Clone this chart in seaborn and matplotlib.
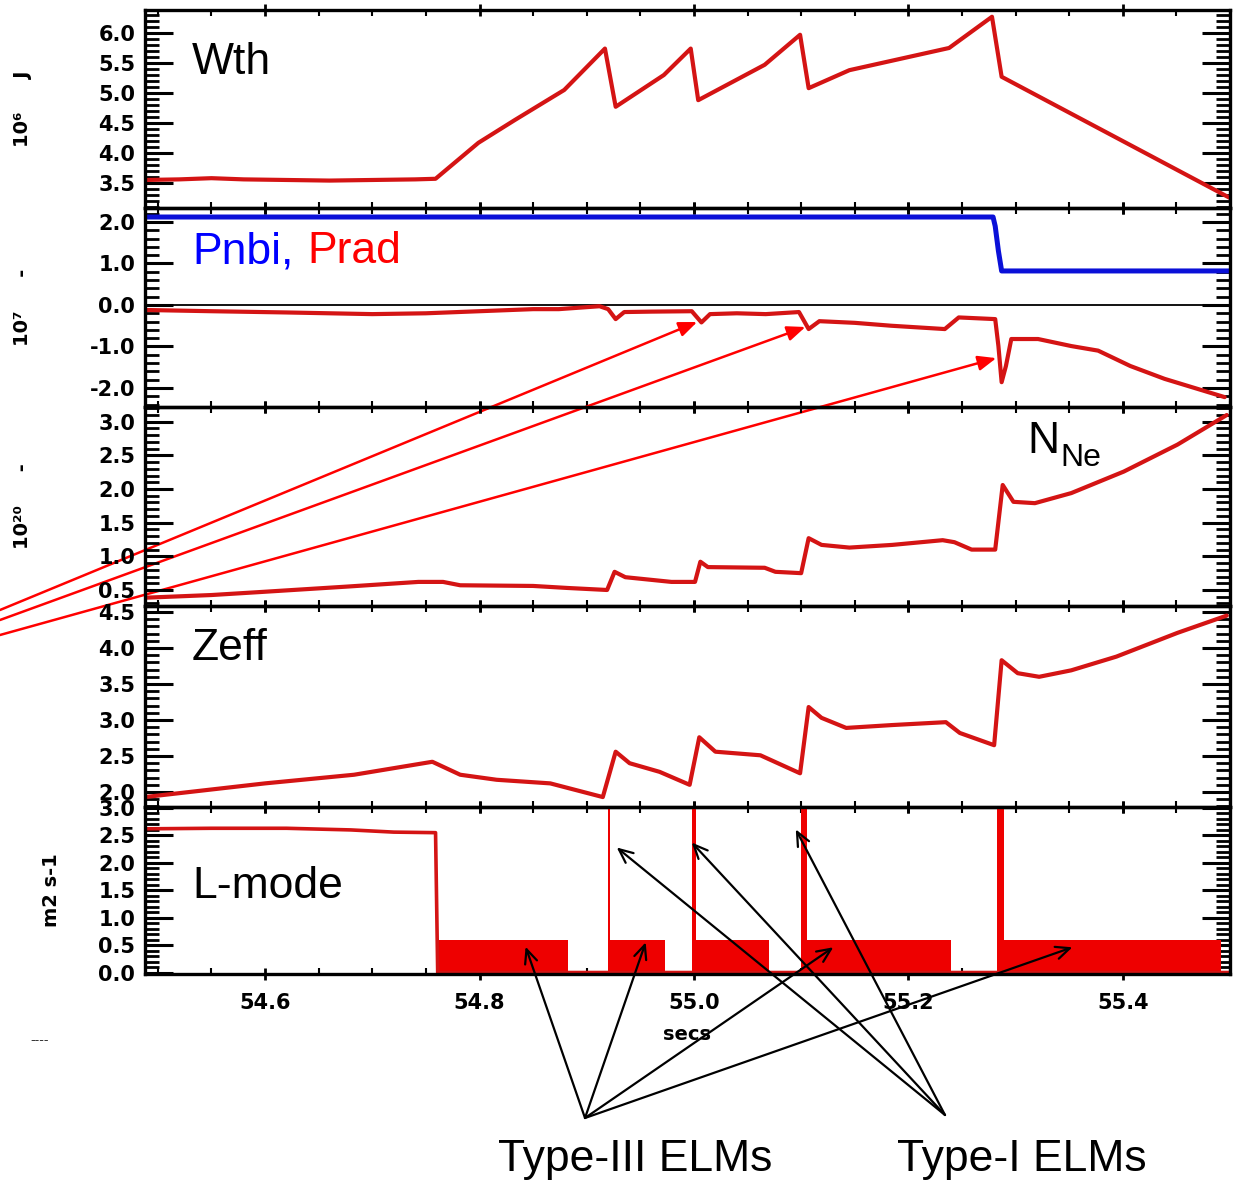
import numpy as np
import pandas as pd
import matplotlib
matplotlib.use("Agg")
import matplotlib.pyplot as plt
from matplotlib.ticker import MultipleLocator
import seaborn as sns

# ---------------- data ----------------
wth_t = [54.488, 54.52, 54.55, 54.58, 54.62, 54.66, 54.70, 54.74, 54.759, 54.799, 54.833, 54.856,
         54.879, 54.917, 54.927, 54.972, 54.997, 55.004, 55.066, 55.099, 55.107, 55.145, 55.238,
         55.278, 55.287, 55.500]
wth_v = [3.55, 3.56, 3.58, 3.56, 3.55, 3.54, 3.55, 3.56, 3.57, 4.17, 4.55, 4.80,
         5.05, 5.74, 4.77, 5.30, 5.74, 4.88, 5.47, 5.97, 5.08, 5.38, 5.75,
         6.27, 5.27, 3.25]

pnbi_t = [54.488, 55.279, 55.281, 55.284, 55.287, 55.500]
pnbi_v = [2.12, 2.12, 1.90, 1.30, 0.82, 0.82]

prad_t = [54.488, 54.55, 54.62, 54.70, 54.75, 54.80, 54.85, 54.874, 54.912, 54.920, 54.927,
          54.935, 54.96, 54.998, 55.007, 55.015, 55.04, 55.067, 55.098, 55.107, 55.117, 55.15,
          55.184, 55.234, 55.247, 55.281, 55.284, 55.287, 55.291, 55.296, 55.321, 55.352,
          55.377, 55.407, 55.439, 55.495]
prad_v = [-0.12, -0.15, -0.18, -0.22, -0.20, -0.15, -0.10, -0.10, -0.03, -0.10, -0.34,
          -0.17, -0.16, -0.15, -0.42, -0.22, -0.20, -0.22, -0.17, -0.58, -0.39, -0.43,
          -0.50, -0.58, -0.30, -0.34, -0.99, -1.86, -1.47, -0.82, -0.82, -0.99,
          -1.10, -1.47, -1.78, -2.22]

nne_t = [54.488, 54.55, 54.596, 54.676, 54.743, 54.766, 54.782, 54.85, 54.882, 54.919, 54.926,
         54.936, 54.979, 55.001, 55.006, 55.013, 55.066, 55.076, 55.100, 55.107, 55.119, 55.145,
         55.185, 55.232, 55.243, 55.259, 55.281, 55.288, 55.298, 55.318, 55.352, 55.401,
         55.451, 55.497]
nne_v = [0.385, 0.425, 0.47, 0.55, 0.62, 0.62, 0.57, 0.56, 0.53, 0.50, 0.77,
         0.69, 0.62, 0.62, 0.92, 0.84, 0.83, 0.77, 0.75, 1.27, 1.17, 1.13,
         1.17, 1.24, 1.21, 1.10, 1.10, 2.06, 1.81, 1.79, 1.94, 2.26,
         2.66, 3.10]

zeff_t = [54.488, 54.60, 54.683, 54.756, 54.782, 54.816, 54.866, 54.915, 54.927, 54.94, 54.968,
          54.996, 55.005, 55.02, 55.062, 55.099, 55.107, 55.119, 55.142, 55.185, 55.235, 55.248,
          55.280, 55.287, 55.302, 55.322, 55.352, 55.394, 55.451, 55.497]
zeff_v = [1.93, 2.12, 2.24, 2.42, 2.24, 2.17, 2.12, 1.93, 2.56, 2.40, 2.28,
          2.10, 2.76, 2.56, 2.51, 2.26, 3.18, 3.03, 2.89, 2.93, 2.97, 2.82,
          2.65, 3.83, 3.65, 3.60, 3.69, 3.88, 4.21, 4.45]

chi_t = [54.488, 54.55, 54.62, 54.68, 54.72, 54.759, 54.761, 55.500]
chi_v = [2.62, 2.63, 2.63, 2.60, 2.56, 2.55, 0.0, 0.0]

band_start = [54.761, 54.920, 54.998, 55.100, 55.283]
band_end = [54.883, 54.973, 55.070, 55.240, 55.492]
band_level = 0.6
elm_start = [54.920, 54.998, 55.100, 55.283]
elm_end = [54.922, 55.002, 55.105, 55.289]
elm_level = 3.5

x_ticks = [54.6, 54.8, 55.0, 55.2, 55.4]

# ---------------- style ----------------
sns.set_style("ticks")
plt.rcParams["font.family"] = ["Liberation Sans", "DejaVu Sans"]
for k in ("text.color", "axes.labelcolor", "xtick.color", "ytick.color", "axes.edgecolor"):
    plt.rcParams[k] = "black"

RED = "#d41414"
BLUE = "#0a10d8"

W, H = 1240, 1190
fig = plt.figure(figsize=(W / 100, H / 100), dpi=100)

left_px, right_px = 145, 1230
rows = [(10, 208), (208, 407), (407, 606), (606, 807), (807, 974)]
axes = []
for top, bot in rows:
    ax = fig.add_axes([left_px / W, 1 - bot / H, (right_px - left_px) / W, (bot - top) / H])
    ax.set_facecolor("none")
    axes.append(ax)
ax1, ax2, ax3, ax4, ax5 = axes

tick_font = dict(family="DejaVu Sans", weight="bold", size=15)


def line(ax, t, v, color, lw=3.0):
    df = pd.DataFrame({"t": t, "v": v})
    sns.lineplot(data=df, x="t", y="v", ax=ax, color=color, lw=lw,
                 estimator=None, sort=False, legend=False)


line(ax1, wth_t, wth_v, RED)
line(ax2, pnbi_t, pnbi_v, BLUE, lw=3.6)
line(ax2, prad_t, prad_v, RED)
ax2.axhline(0, color="black", lw=1.3, zorder=1)
line(ax3, nne_t, nne_v, RED)
line(ax4, zeff_t, zeff_v, RED)
line(ax5, chi_t, chi_v, RED, lw=2.6)
for s, e in zip(band_start, band_end):
    ax5.fill_between([s, e], 0, band_level, color="#ee0000", lw=0)
for s, e in zip(elm_start, elm_end):
    ax5.fill_between([s, e], 0, elm_level, color="#ee0000", lw=0)

ylims = [(3.083, 6.383), (-2.458, 2.337), (0.262, 3.219), (1.792, 4.583), (-0.027, 3.018)]
ymaj = [0.5, 1.0, 0.5, 0.5, 0.5]
ymin = [0.1, 0.2, 0.1, 0.1, 0.1]
for ax, yl, mj, mn in zip(axes, ylims, ymaj, ymin):
    ax.set_xlim(54.488, 55.500)
    ax.set_ylim(*yl)
    ax.xaxis.set_major_locator(MultipleLocator(0.2))
    ax.xaxis.set_minor_locator(MultipleLocator(0.05))
    ax.yaxis.set_major_locator(MultipleLocator(mj))
    ax.yaxis.set_minor_locator(MultipleLocator(mn))
    ax.tick_params(axis="y", which="major", direction="in", length=20, width=2.2,
                   left=True, right=True, pad=7)
    ax.tick_params(axis="y", which="minor", direction="in", length=10, width=2.0,
                   left=True, right=True)
    ax.tick_params(axis="x", which="major", direction="inout", length=8, width=2,
                   top=True, bottom=True, pad=10)
    ax.tick_params(axis="x", which="minor", direction="in", length=4, width=1.5,
                   top=True, bottom=True)
    for sp in ax.spines.values():
        sp.set_linewidth(2.4)
        sp.set_color("black")
    ax.set_xlabel("")
    ax.set_ylabel("")
    ax.yaxis.set_major_formatter(matplotlib.ticker.FormatStrFormatter("%.1f"))
    for lab in ax.get_yticklabels():
        lab.set_fontproperties(matplotlib.font_manager.FontProperties(**tick_font))
    if ax is not ax5:
        ax.tick_params(axis="x", labelbottom=False)

ax5.set_xticks(x_ticks)
ax5.set_xticklabels([f"{v:.1f}" for v in x_ticks], fontdict=tick_font)
ax5.set_xlabel("secs", fontdict=dict(family="DejaVu Sans", weight="bold", size=14), labelpad=8)

lab_font = dict(family="DejaVu Sans", weight="bold", size=14)
ax1.set_ylabel("10\u2076     J", fontdict=lab_font)
ax2.set_ylabel("10\u2077     -", fontdict=lab_font)
ax3.set_ylabel("10\u00b2\u2070     -", fontdict=lab_font)
ax5.set_ylabel("m2 s-1", fontdict=lab_font)
for ax in (ax1, ax2, ax3):
    ax.yaxis.set_label_coords(-0.104, 0.5)
ax5.yaxis.set_label_coords(-0.077, 0.5)

# panel annotations
big = 32
ax1.text(0.0433, 0.737, "Wth", transform=ax1.transAxes, fontsize=big, va="center", ha="left")
ax2.text(0.0433, 0.779, "Pnbi,", transform=ax2.transAxes, fontsize=big, va="center",
         ha="left", color="#0000ff")
ax2.text(0.150, 0.779, "Prad", transform=ax2.transAxes, fontsize=big, va="center",
         ha="left", color="#ff0000")
ax3.text(0.813, 0.829, "N", transform=ax3.transAxes, fontsize=big, va="center", ha="left")
ax3.text(0.8433, 0.745, "Ne", transform=ax3.transAxes, fontsize=23, va="center", ha="left")
ax4.text(0.0433, 0.791, "Zeff", transform=ax4.transAxes, fontsize=big, va="center", ha="left")
ax5.text(0.0433, 0.521, "L-mode", transform=ax5.transAxes, fontsize=big, va="center", ha="left")

fig.text(635 / W, 1 - 1160 / H, "Type-III ELMs", fontsize=big, ha="center", va="center")
fig.text(1022 / W, 1 - 1160 / H, "Type-I ELMs", fontsize=big, ha="center", va="center")
fig.text(40 / W, 1 - 1040 / H, "----", fontsize=10, ha="center", va="center", color="#333333")

# red arrows into the Prad trace (drawn at figure level so they cross the panels)
red_targets = [(55.003, -0.41), (55.104, -0.53), (55.282, -1.28)]
red_origins = [(0, H - 610), (0, H - 620), (0, H - 635)]
for (tx, ty), (ox, oy) in zip(red_targets, red_origins):
    ax2.annotate("", xy=(tx, ty), xycoords="data", xytext=(ox, oy), textcoords="figure pixels",
                 arrowprops=dict(arrowstyle="-|>,head_length=1.1,head_width=0.45", color="#ff0000",
                                 lw=1.8, shrinkA=0, shrinkB=0), annotation_clip=False, zorder=10)

# black arrows from the ELM labels
t3_targets = [(54.843, 0.47), (54.955, 0.55), (55.130, 0.46), (55.353, 0.46)]
t1_targets = [(54.928, 2.28), (54.998, 2.37), (55.095, 2.61)]
for tx, ty in t3_targets:
    ax5.annotate("", xy=(tx, ty), xycoords="data", xytext=(585, H - 1118),
                 textcoords="figure pixels",
                 arrowprops=dict(arrowstyle="->,head_length=1.0,head_width=0.45", color="black",
                                 lw=1.6, shrinkA=0, shrinkB=0), annotation_clip=False, zorder=10)
for tx, ty in t1_targets:
    ax5.annotate("", xy=(tx, ty), xycoords="data", xytext=(945, H - 1115),
                 textcoords="figure pixels",
                 arrowprops=dict(arrowstyle="->,head_length=1.0,head_width=0.45", color="black",
                                 lw=1.6, shrinkA=0, shrinkB=0), annotation_clip=False, zorder=10)

fig.savefig("out.png", dpi=100)
